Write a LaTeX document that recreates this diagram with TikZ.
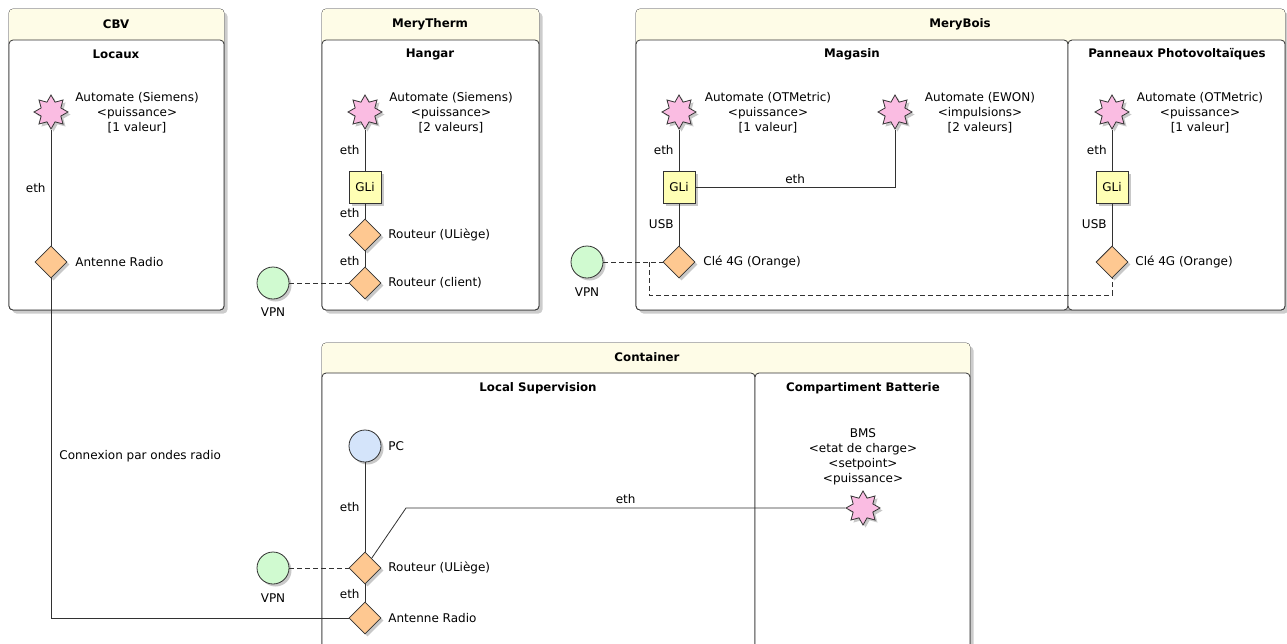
\documentclass[tikz,border=0pt]{standalone}
\usepackage{fontspec}
\setmainfont{DejaVu Sans}
\usetikzlibrary{shapes.geometric, shadows, positioning}
\definecolor{headfill}{RGB}{254,252,231}
\definecolor{autofill}{RGB}{250,188,226}
\definecolor{routfill}{RGB}{254,200,145}
\definecolor{glifill}{RGB}{255,255,180}
\definecolor{vpnfill}{RGB}{208,250,208}
\definecolor{pcfill}{RGB}{212,228,250}
\definecolor{edge}{RGB}{50,50,50}
\newcommand{\symsize}{32pt}
% site = outer box + cream header band
\newcommand{\site}[5]{%
  \draw[sitebox] (#1,#2) rectangle (#3,#4);
  \fill[headfill, rounded corners=4pt] (#1,#2) rectangle (#3,#5+6);
}

\begin{document}
\begin{tikzpicture}[x=1pt,y=-1pt,line width=0.8pt,
  every node/.style={font=\fontsize{12}{15}\selectfont},
  shadowed/.style={drop shadow={shadow xshift=2.5pt,shadow yshift=-2.5pt,fill=black!30,opacity=.7}},
  sitebox/.style={draw=edge,fill=white,rounded corners=4pt,
    drop shadow={shadow xshift=3.5pt,shadow yshift=-3.5pt,fill=black!25,opacity=.8}},
  room/.style={draw=edge,fill=white,rounded corners=4pt},
  boxtitle/.style={font=\bfseries\fontsize{11.8}{15}\selectfont},
  automate/.style={shape=star,star points=8,star point ratio=1.6,minimum size=34pt,
    inner sep=0pt,draw=edge,fill=autofill,shadowed},
  routeur/.style={shape=diamond,minimum size=\symsize,inner sep=0pt,draw=edge,fill=routfill,shadowed},
  gli/.style={shape=rectangle,minimum size=\symsize,inner sep=0pt,draw=edge,fill=glifill,shadowed},
  vpn/.style={shape=circle,minimum size=\symsize,inner sep=0pt,draw=edge,fill=vpnfill,shadowed},
  pc/.style={shape=circle,minimum size=\symsize,inner sep=0pt,draw=edge,fill=pcfill,shadowed},
  lbl/.style={anchor=west,inner sep=0pt},
  info/.style={align=center,inner sep=0pt},
  elbl/.style={left,inner sep=2pt,xshift=-3pt},
  link/.style={draw=edge},
  vpnlink/.style={draw=edge,dash pattern=on 5pt off 3pt}]

\path[use as bounding box,clip] (0,0) rectangle (1287,643);

% boxes
\site{9}{9}{224}{310}{40}
\draw[room] (9,40) rectangle (224,310);
\site{322}{9}{539}{310}{40}
\draw[room] (322,40) rectangle (539,310);
\site{636}{9}{1285}{310}{40}
\draw[room] (636,40) rectangle (1068,310);
\draw[room] (1068,40) rectangle (1285,310);
\site{322}{343}{970}{690}{373}
\draw[room] (322,373) rectangle (755,690);
\draw[room] (755,373) rectangle (970,690);

\node[boxtitle] (cbvT) at (116,24) {CBV};
\node[boxtitle] (locT) at (116,54) {Locaux};
\node[boxtitle] (mtT) at (430,24) {MeryTherm};
\node[boxtitle] (hgT) at (430,54) {Hangar};
\node[boxtitle] (mbT) at (960,24) {MeryBois};
\node[boxtitle] (magT) at (852,54) {Magasin};
\node[boxtitle] (ppT) at (1177,54) {Panneaux Photovoltaïques};
\node[boxtitle] (ctT) at (647,357) {Container};
\node[boxtitle] (lsT) at (538,388) {Local Supervision};
\node[boxtitle] (cbT) at (863,388) {Compartiment Batterie};

% CBV
\node[automate] (cbvAut) at (51,112) {};
\node[info] (cbvAutL) at (137,113) {Automate (Siemens)\\<puissance>\\{[1 valeur]}};
\node[routeur] (cbvAnt) at (51,262) {};
\node[lbl] (cbvAntL) at (75,262) {Antenne Radio};

% MeryTherm
\node[automate] (mtAut) at (365,112) {};
\node[info] (mtAutL) at (451,113) {Automate (Siemens)\\<puissance>\\{[2 valeurs]}};
\node[gli] (mtGli) at (365,187) {GLi};
\node[routeur] (mtRtu) at (365,235) {};
\node[lbl] (mtRtuL) at (388,235) {Routeur (ULiège)};
\node[routeur] (mtCli) at (365,283) {};
\node[lbl] (mtCliL) at (388,283) {Routeur (client)};
\node[vpn] (mtVpn) at (273,283) {};
\node (mtVpnL) at (273,312) {VPN};

% MeryBois
\node[automate] (mbOtm) at (679,112) {};
\node[info] (mbOtmL) at (768,113) {Automate (OTMetric)\\<puissance>\\{[1 valeur]}};
\node[automate] (mbEwon) at (895,112) {};
\node[info] (mbEwonL) at (980,113) {Automate (EWON)\\<impulsions>\\{[2 valeurs]}};
\node[gli] (mbGli) at (679,187) {GLi};
\node[routeur] (mbCle) at (679,262) {};
\node[lbl] (mbCleL) at (703,262) {Clé 4G (Orange)};
\node[vpn] (mbVpn) at (587,262) {};
\node (mbVpnL) at (587,292) {VPN};
\node[automate] (ppOtm) at (1112,112) {};
\node[info] (ppOtmL) at (1200,113) {Automate (OTMetric)\\<puissance>\\{[1 valeur]}};
\node[gli] (ppGli) at (1112,187) {GLi};
\node[routeur] (ppCle) at (1112,262) {};
\node[lbl] (ppCleL) at (1135,262) {Clé 4G (Orange)};
\coordinate (mbJoin) at (649,262);
\coordinate (mbLow) at (649,295);

% Container
\node[pc] (ctPc) at (365,446) {};
\node[lbl] (ctPcL) at (388,446) {PC};
\node[routeur] (ctRout) at (365,568) {};
\node[lbl] (ctRoutL) at (388,568) {Routeur (ULiège)};
\node[routeur] (ctAnt) at (365,618) {};
\node[lbl] (ctAntL) at (388,618) {Antenne Radio};
\node[vpn] (ctVpn) at (273,568) {};
\node (ctVpnL) at (273,598) {VPN};
\node[automate] (ctBms) at (863,508) {};
\node[info] (ctBmsL) at (863,457) {BMS\\<etat de charge>\\<setpoint>\\<puissance>};
\coordinate (ctBend) at (406,508);
\node[lbl] (radioL) at (59,456) {Connexion par ondes radio};

% links
\draw[link] (cbvAut) -- node[elbl] (e1) {eth} (cbvAnt);
\draw[link] (cbvAnt) |- (ctAnt);

\draw[link] (mtAut) -- node[elbl] (e2) {eth} (mtGli);
\draw[link] (mtGli) -- node[elbl,yshift=-2pt] (e3) {eth} (mtRtu);
\draw[link] (mtRtu) -- node[elbl,yshift=-2pt] (e4) {eth} (mtCli);
\draw[vpnlink] (mtVpn) -- (mtCli);

\draw[link] (mbOtm) -- node[elbl] (e5) {eth} (mbGli);
\draw[link] (mbGli) -| node[pos=0.25,above,inner sep=3pt] (e6) {eth} (mbEwon);
\draw[link] (mbGli) -- node[elbl] (e7) {USB} (mbCle);
\draw[vpnlink] (mbVpn) -- (mbCle);
\draw[vpnlink] (mbJoin) -- (mbLow) -| (ppCle);
\draw[link] (ppOtm) -- node[elbl] (e8) {eth} (ppGli);
\draw[link] (ppGli) -- node[elbl] (e9) {USB} (ppCle);

\draw[link] (ctPc) -- node[elbl] (e10) {eth} (ctRout);
\draw[link] (ctRout) -- (ctBend) -- node[above,inner sep=4pt] (e11) {eth} (ctBms);
\draw[link] (ctRout) -- node[elbl,yshift=-1pt] (e12) {eth} (ctAnt);
\draw[vpnlink] (ctVpn) -- (ctRout);
\end{tikzpicture}
\end{document}
